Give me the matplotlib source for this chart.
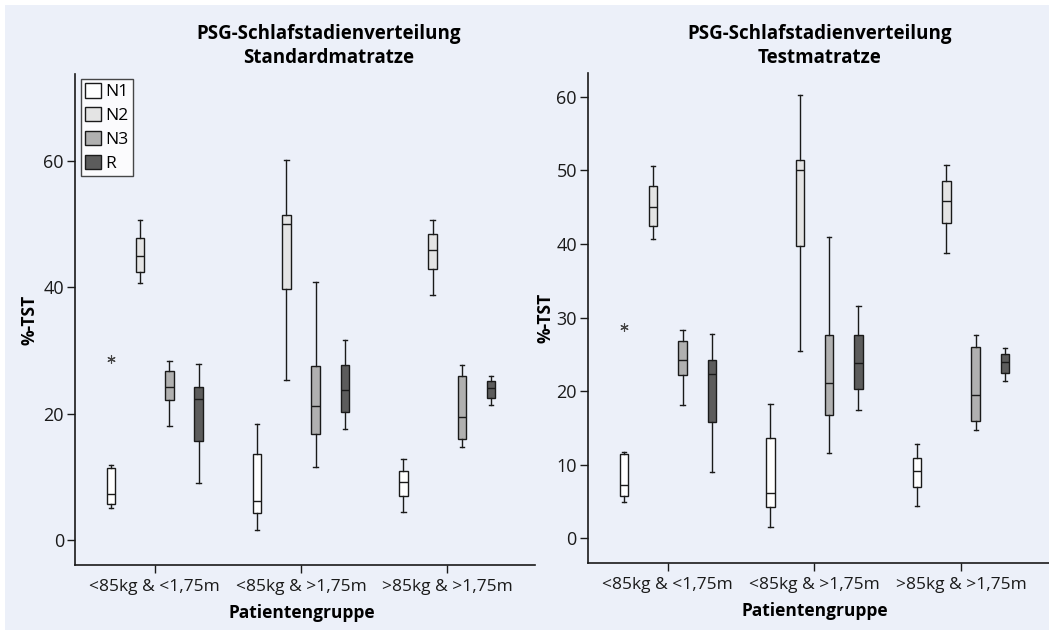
import matplotlib
matplotlib.use('Agg')
import matplotlib.pyplot as plt
from matplotlib.patches import Patch, Rectangle

plt.rcParams['font.family'] = ['Open Sans', 'DejaVu Sans']

groups = ['<85kg & <1,75m', '<85kg & >1,75m', '>85kg & >1,75m']
stages = ['N1', 'N2', 'N3', 'R']
stage_colors = ['#ffffff', '#e4e4e4', '#b0b0b0', '#5c5c5c']

# box summaries per stage, one entry per patient group
# (whisker low, Q1, median, Q3, whisker high) in %-TST
n1_lo = [5.0, 1.6, 4.4]
n1_q1 = [5.75, 4.2, 7.0]
n1_med = [7.3, 6.1, 9.2]
n1_q3 = [11.45, 13.6, 10.9]
n1_hi = [11.8, 18.3, 12.8]

n2_lo = [40.7, 25.4, 38.8]
n2_q1 = [42.5, 39.8, 42.9]
n2_med = [45.05, 50.1, 45.9]
n2_q3 = [47.9, 51.4, 48.5]
n2_hi = [50.6, 60.2, 50.7]

n3_lo = [18.1, 11.55, 14.7]
n3_q1 = [22.2, 16.75, 16.0]
n3_med = [24.3, 21.15, 19.5]
n3_q3 = [26.8, 27.6, 26.0]
n3_hi = [28.3, 40.9, 27.7]

r_lo = [9.05, 17.5, 21.4]
r_q1 = [15.75, 20.3, 22.5]
r_med = [22.3, 23.8, 24.0]
r_q3 = [24.2, 27.7, 25.1]
r_hi = [27.8, 31.6, 25.9]

# extreme value marked with an asterisk (N1, first group)
n1_extreme = [[28.7], [], []]

stage_stats = [
    (n1_lo, n1_q1, n1_med, n1_q3, n1_hi),
    (n2_lo, n2_q1, n2_med, n2_q3, n2_hi),
    (n3_lo, n3_q1, n3_med, n3_q3, n3_hi),
    (r_lo, r_q1, r_med, r_q3, r_hi),
]

panel_titles = ['PSG-Schlafstadienverteilung\nStandardmatratze',
                'PSG-Schlafstadienverteilung\nTestmatratze']

offsets = [-0.3, -0.1, 0.1, 0.3]
bg = '#ecf0f9'

fig = plt.figure(figsize=(10.49, 6.32), dpi=100)
fig.patch.set_facecolor('white')
fig.patches.append(Rectangle((5 / 1049, 2 / 632), 1, 1 - 7 / 632,
                             transform=fig.transFigure, facecolor=bg,
                             edgecolor='none', zorder=-10))

ax1 = fig.add_axes([0.0715, 0.106, 0.4385, 0.777])
ax2 = fig.add_axes([0.5605, 0.109, 0.4395, 0.775])


def draw_panel(ax, title, title_x, ylim, yticks):
    ax.set_facecolor('none')
    for s, (lo, q1, med, q3, hi) in enumerate(stage_stats):
        stats = []
        for g in range(len(groups)):
            stats.append({'whislo': lo[g], 'q1': q1[g], 'med': med[g],
                          'q3': q3[g], 'whishi': hi[g],
                          'fliers': n1_extreme[g] if s == 0 else []})
        pos = [g + 1 + offsets[s] for g in range(len(groups))]
        ax.bxp(stats, positions=pos, widths=0.058, capwidths=0.03,
               patch_artist=True, showfliers=True,
               boxprops=dict(facecolor=stage_colors[s], edgecolor='#1a1a1a', linewidth=1.0),
               medianprops=dict(color='#1a1a1a', linewidth=1.0),
               whiskerprops=dict(color='#1a1a1a', linewidth=1.0),
               capprops=dict(color='#1a1a1a', linewidth=1.0),
               flierprops=dict(marker=(6, 2, 0), markersize=6, markeredgecolor='#444444',
                               markeredgewidth=0.8, linestyle='none'))
    ax.set_xlim(0.455, 3.6)
    ax.set_ylim(*ylim)
    ax.set_yticks(yticks)
    ax.set_yticklabels([str(t) for t in yticks])
    ax.set_xticks([1, 2, 3])
    ax.set_xticklabels(groups)
    ax.tick_params(axis='both', labelsize=12.5, direction='out', length=6, width=1.0,
                   colors='#1a1a1a')
    ax.tick_params(axis='y', labelsize=13, pad=2)
    ax.tick_params(axis='x', pad=4)
    for side in ['top', 'right']:
        ax.spines[side].set_visible(False)
    for side in ['left', 'bottom']:
        ax.spines[side].set_linewidth(1.2)
        ax.spines[side].set_color('#1a1a1a')
    ax.set_xlabel('Patientengruppe', fontsize=12.5, fontweight='bold')
    ax.set_ylabel('%-TST', fontsize=12.5, fontweight='bold')
    # two-line title, placed in figure pixels above the panel
    fig.text(title_x / 1049, 1 - 46 / 632, title, ha='center', va='center',
             fontsize=13.5, fontweight='bold', linespacing=1.3)


draw_panel(ax1, panel_titles[0], 329, (-3.96, 73.8), [0, 20, 40, 60])
draw_panel(ax2, panel_titles[1], 820, (-3.36, 63.2), [0, 10, 20, 30, 40, 50, 60])

ax1.xaxis.set_label_coords(0.493, -0.08)
ax2.xaxis.set_label_coords(0.492, -0.08)
ax1.yaxis.set_label_coords(-0.08, 0.5)
ax2.yaxis.set_label_coords(-0.073, 0.5)

handles = [Patch(facecolor=c, edgecolor='#1a1a1a', linewidth=1.0) for c in stage_colors]
leg = ax1.legend(handles, stages, loc='upper left', bbox_to_anchor=(0.013, 0.99),
                 fontsize=12.5, frameon=True, fancybox=False, borderaxespad=0,
                 handlelength=0.9, handleheight=0.9, handletextpad=0.25,
                 labelspacing=0.38, borderpad=0.25)
leg.get_frame().set_edgecolor('#1a1a1a')
leg.get_frame().set_linewidth(1.0)
leg.get_frame().set_facecolor('white')

fig.savefig('out.png', dpi=100, facecolor=fig.get_facecolor())
